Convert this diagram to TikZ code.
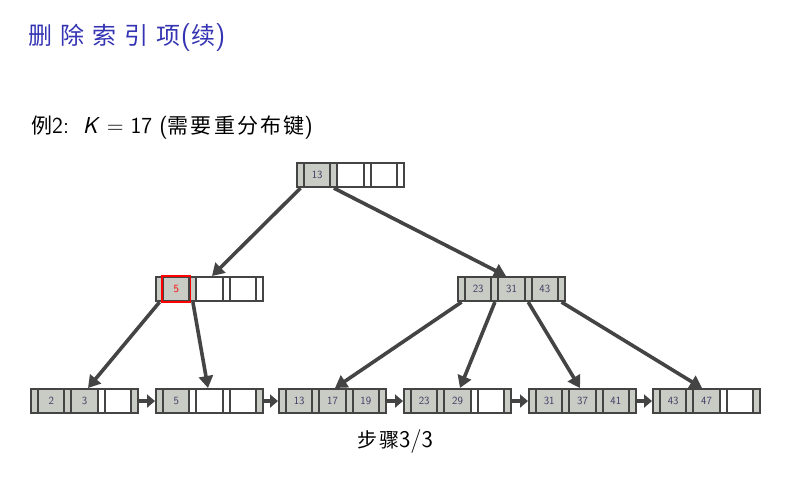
\documentclass[tikz,border=0pt]{standalone}
\usepackage{fontspec}
\newfontfamily\cjk[LetterSpace=10]{Noto Sans CJK SC}
\newfontfamily\cjkT[LetterSpace=34]{Noto Sans CJK SC}
\usetikzlibrary{arrows.meta}
\definecolor{titleblue}{RGB}{51,51,179}
\definecolor{cellfill}{RGB}{200,204,196}
\definecolor{edge}{RGB}{68,68,68}
\definecolor{keytext}{RGB}{60,60,100}
\tikzset{
  cellbase/.style={draw=edge, line width=2.1pt, minimum height=24pt, inner sep=0pt,
    anchor=north west, font=\sffamily\fontsize{11}{11}\selectfont, text=keytext},
  pf/.style={cellbase, fill=cellfill, minimum width=7pt},
  pe/.style={cellbase, fill=white, minimum width=7pt},
  kf/.style={cellbase, fill=cellfill, minimum width=26.33pt},
  ke/.style={cellbase, fill=white, minimum width=26.33pt},
  kr/.style={cellbase, fill=cellfill, text=red, minimum width=26.33pt},
  redbox/.style={draw=red, line width=1.8pt},
  link/.style={draw=edge, line width=3.6pt, -{Triangle[length=12pt,width=14pt]}},
  hlink/.style={draw=edge, line width=4.5pt, -{Triangle[length=8pt,width=13pt]}},
}
\newcommand\bpnode[4]{%
  \foreach [count=\i] \s/\t in {#4}{%
    \pgfmathsetmacro\xo{#2 + 7*floor(\i/2) + 26.3333*floor((\i-1)/2)}
    \node[\s] (#1-\i) at (\xo,#3) {\t};
  }%
}
\begin{document}
\begin{tikzpicture}[x=1pt,y=-1pt]
\useasboundingbox (0,0) rectangle (793,479);
% texts
\node[anchor=base west, inner sep=0pt, text=titleblue] (title) at (28,44)
  {{\cjkT\fontsize{24}{24}\selectfont 删除索引项}{\sffamily\fontsize{28}{28}\selectfont(}{\cjkT\fontsize{24}{24}\selectfont 续}{\sffamily\fontsize{28}{28}\selectfont)}};
\node[anchor=base west, inner sep=0pt] (sub) at (31,133)
  {{\cjk\fontsize{21}{21}\selectfont 例}{\sffamily\fontsize{23}{23}\selectfont 2:\hspace{0.6em}\textsl{K}\hspace{0.3em}=\hspace{0.3em}17 (}{\cjk\fontsize{21}{21}\selectfont 需要重分布键}{\sffamily\fontsize{23}{23}\selectfont )}};
\node[anchor=base, inner sep=0pt] (step) at (395,447)
  {{\cjk\fontsize{20}{20}\selectfont 步骤}{\sffamily\fontsize{24}{24}\selectfont 3/3}};
% tree nodes
\bpnode{root}{296}{162}{pf/{},kf/13,pf/{},ke/{},pe/{},ke/{},pe/{}}
\bpnode{na}{155}{276}{pf/{},kr/5,pf/{},ke/{},pe/{},ke/{},pe/{}}
\draw[redbox] (na-2.north west) rectangle (na-2.south east);
\bpnode{nb}{457}{276}{pf/{},kf/23,pf/{},kf/31,pf/{},kf/43,pf/{}}
\bpnode{la}{30}{388}{pf/{},kf/2,pf/{},kf/3,pe/{},ke/{},pf/{}}
\bpnode{lb}{155}{388}{pf/{},kf/5,pe/{},ke/{},pe/{},ke/{},pf/{}}
\bpnode{lc}{278}{388}{pf/{},kf/13,pf/{},kf/17,pf/{},kf/19,pf/{}}
\bpnode{ld}{403}{388}{pf/{},kf/23,pf/{},kf/29,pe/{},ke/{},pf/{}}
\bpnode{le}{528}{388}{pf/{},kf/31,pf/{},kf/37,pf/{},kf/41,pf/{}}
\bpnode{lf}{652}{388}{pf/{},kf/43,pf/{},kf/47,pe/{},ke/{},pf/{}}
% tree links
\draw[link] (root-1.south) -- ([xshift=57pt]na-1.north west);
\draw[link] (root-3.south) -- ([xshift=49pt]nb-1.north west);
\draw[link] (na-1.south) -- ([xshift=58pt]la-1.north west);
\draw[link] (na-3.south) -- ([xshift=53pt]lb-1.north west);
\draw[link] (nb-1.south) -- ([xshift=57pt]lc-1.north west);
\draw[link] (nb-3.south) -- ([xshift=57pt]ld-1.north west);
\draw[link] (nb-5.south) -- ([xshift=52pt]le-1.north west);
\draw[link] (nb-7.south) -- ([xshift=50pt]lf-1.north west);
% leaf chain
\draw[hlink] (la-7.east) -- (lb-1.west);
\draw[hlink] (lb-7.east) -- (lc-1.west);
\draw[hlink] (lc-7.east) -- (ld-1.west);
\draw[hlink] (ld-7.east) -- (le-1.west);
\draw[hlink] (le-7.east) -- (lf-1.west);
\end{tikzpicture}
\end{document}
